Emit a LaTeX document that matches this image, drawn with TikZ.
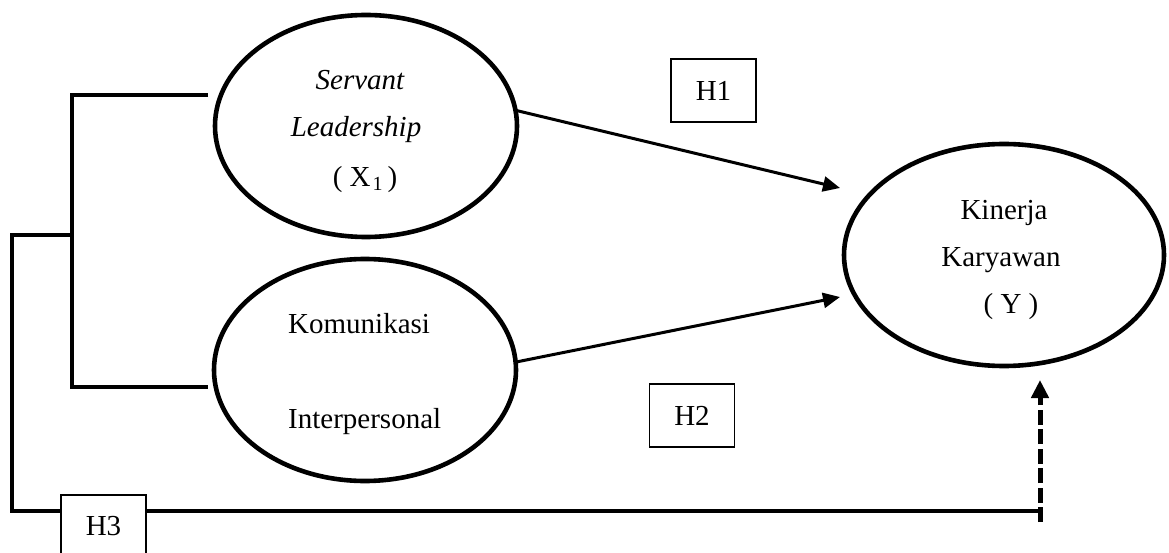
\documentclass[tikz,border=0pt]{standalone}
\usepackage{fontspec}
\setmainfont{Liberation Serif}
\usetikzlibrary{shapes.geometric,arrows.meta}
\begin{document}
\begin{tikzpicture}[x=1pt,y=-1pt,
  latent/.style={ellipse,draw,line width=4.6pt,inner sep=0pt,outer sep=0pt,minimum height=222pt},
  lbl/.style={anchor=base,inner sep=0pt,font=\fontsize{29}{34}\selectfont},
  lblw/.style={anchor=base west,inner sep=0pt,font=\fontsize{29}{34}\selectfont},
  hbox/.style={draw,line width=1.1pt,fill=white,minimum width=85pt,minimum height=63pt,inner sep=0pt,font=\fontsize{29}{34}\selectfont},
  conn/.style={line width=3pt,-{Triangle[length=17pt,width=15pt]}},
  dconn/.style={line width=5pt,dash pattern=on 15pt off 4.5pt,-{Triangle[length=18pt,width=17pt]}},
  bracket/.style={line width=3.6pt}]
\useasboundingbox (0,0) rectangle (1169,553);
\clip (0,0) rectangle (1169,553);
% bracket and H3 line
\coordinate (b1) at (208,95);
\coordinate (b2) at (208,387);
\coordinate (bm) at (72,235);
\coordinate (h3line) at (1041,511);
\draw[bracket] (b1) -- (72,95) -- (72,387) -- (b2);
\draw[bracket,line width=4pt] (bm) -- (12,235) -- (12,511) -- (h3line);
% latent variables
\node[latent,minimum width=302pt] (sl) at (366,126) {};
\node[latent,minimum width=302pt] (ki) at (365,370) {};
\node[latent,minimum width=320pt] (ky) at (1004,255) {};
% labels
\node[lbl] (t1) at (360,90) {\itshape Servant};
\node[lbl] (t2) at (356,137) {\itshape Leadership};
\node[lbl] (t3) at (365,187) {( X\kern2pt\raisebox{-4pt}{\fontsize{20}{20}\selectfont 1}\kern5pt)};
\node[lblw] (t4) at (288,333) {Komunikasi};
\node[lblw] (t5) at (288,428) {Interpersonal};
\node[lbl] (t6) at (1004,220) {Kinerja};
\node[lbl] (t7) at (1001,266) {Karyawan};
\node[lbl] (t8) at (1011,313) {( Y )};
% hypothesis boxes
\node[hbox] (h1) at (713.5,90.5) {H1};
\node[hbox] (h2) at (692,415.5) {H2};
\node[hbox] (h3) at (103.5,526.5) {H3};
% connectors
\coordinate (h1e) at (840,188);
\coordinate (h2e) at (840,297);
\draw[conn] (sl.6) -- (h1e);
\draw[conn] (ki.3) -- (h2e);
\coordinate (dstart) at (1040,522);
\coordinate (dend) at (1040,380);
\draw[dconn] (dstart) -- (dend);
\end{tikzpicture}
\end{document}
